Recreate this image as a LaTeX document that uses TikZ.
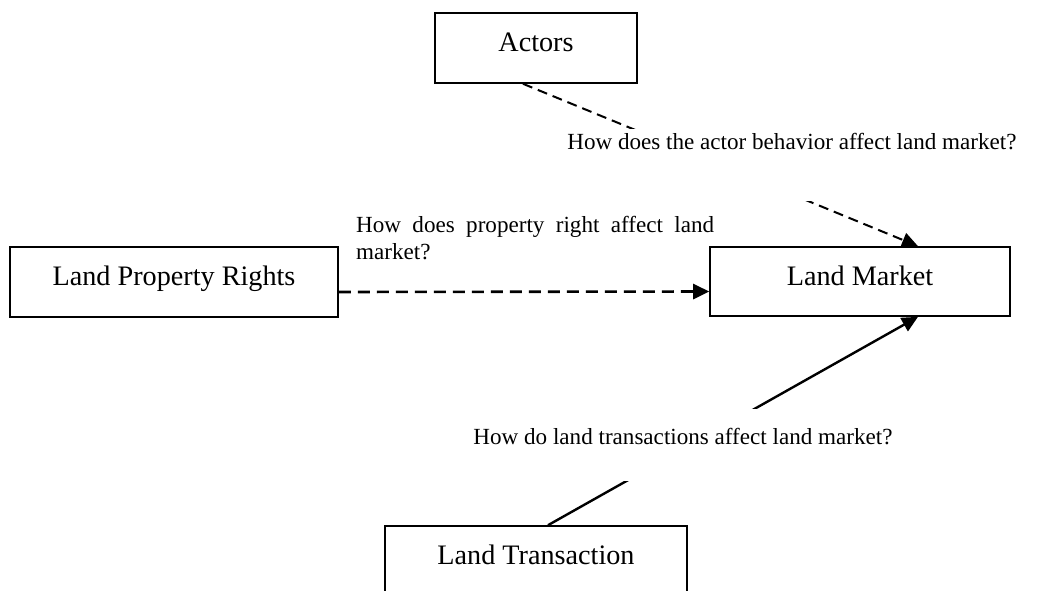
\documentclass[tikz,border=0pt]{standalone}
\usepackage{fontspec}
\setmainfont{Liberation Serif}
\usetikzlibrary{arrows.meta}
\hbadness=10000
\begin{document}
\begin{tikzpicture}[x=1pt,y=-1pt,
  box/.style={draw, line width=1.6pt, inner sep=0pt, text height=20pt, text depth=13pt,
    font=\fontsize{28.2}{33}\selectfont},
  conn/.style={line width=2.4pt, -{Triangle[length=16pt,width=15pt]}},
  dashlong/.style={dash pattern=on 12pt off 7pt},
  dashshort/.style={dash pattern=on 10pt off 6pt},
  qtext/.style={inner sep=0pt, font=\fontsize{23.1}{27}\selectfont},
  cover/.style={fill=white, draw=none},
]
\useasboundingbox (0,0) rectangle (1049,591);
% boxes
\node[box, minimum width=202pt, minimum height=70pt] (actors) at (536,48) {Actors};
\node[box, minimum width=328pt, minimum height=70pt] (lpr) at (174,282) {Land Property Rights};
\node[box, minimum width=300pt, minimum height=69pt] (lm) at (860,281.5) {Land Market};
\node[box, minimum width=302pt, minimum height=70pt] (lt) at (536,561) {Land Transaction};
% connectors
\draw[conn, dashlong, line width=2.6pt] ([yshift=-10pt]lpr.east) -- ([yshift=-10pt]lm.west);
\draw[conn, dashshort, line width=2pt] ([xshift=-13pt]actors.south) -- ([xshift=58pt]lm.north);
\draw[conn] ([xshift=12pt]lt.north) -- ([xshift=58pt]lm.south);
% question text boxes (white, covering the connectors)
\fill[cover] (560,129) rectangle (1022,201);
\node[qtext] (q1) at (792,142) {How does the actor behavior affect land market?};
\fill[cover] (462,409) rectangle (910,481);
\node[qtext] (q3) at (683,437) {How do land transactions affect land market?};
\node[qtext, text width=358pt, align=justify, anchor=north west] (q2) at (356,216) {How does property right affect land market?};
\end{tikzpicture}
\end{document}
